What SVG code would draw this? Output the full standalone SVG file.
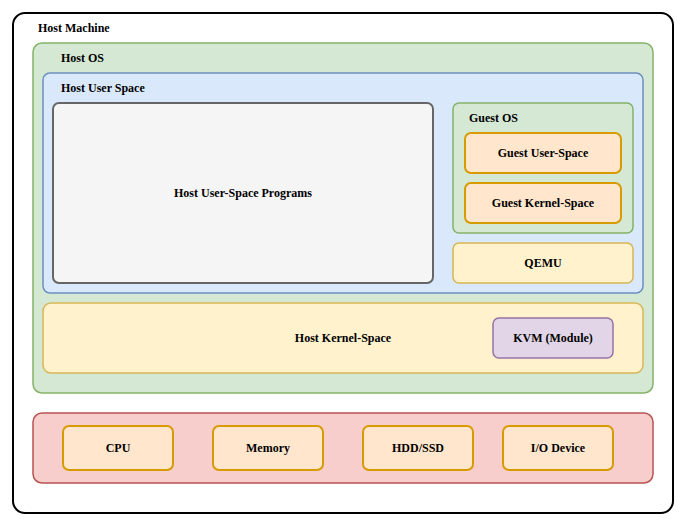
<svg xmlns="http://www.w3.org/2000/svg" width="686" height="526" viewBox="0 0 686 526">
<style>
text{font-family:"Liberation Serif","Times New Roman",serif;font-weight:bold;font-size:12px;fill:#000}
.c{text-anchor:middle;dominant-baseline:central}
.green{fill:#d5e8d4;stroke:#82b366;stroke-width:1.5}
.blue{fill:#dae8fc;stroke:#6c8ebf;stroke-width:1.5}
.grey{fill:#f5f5f5;stroke:#666666;stroke-width:2}
.orange{fill:#ffe6cc;stroke:#d79b00;stroke-width:2}
.yellow{fill:#fff2cc;stroke:#d6b656;stroke-width:1.5}
.purple{fill:#e1d5e7;stroke:#9673a6;stroke-width:1.5}
.red{fill:#f8cecc;stroke:#b85450;stroke-width:1.5}
</style>
<rect width="686" height="526" fill="#fff"/>
<g id="host-machine"><rect x="13" y="13" width="660" height="500" rx="12" fill="#fff" stroke="#000" stroke-width="2"/><text x="38" y="32">Host Machine</text></g>
<g id="host-os"><rect class="green" x="33" y="43" width="620" height="350" rx="9"/><text x="61" y="62">Host OS</text></g>
<g id="host-user-space"><rect class="blue" x="43" y="73" width="600" height="220" rx="7"/><text x="61" y="92">Host User Space</text></g>
<g id="host-user-programs"><rect class="grey" x="53" y="103" width="380" height="180" rx="6"/><text class="c" x="243" y="193">Host User-Space Programs</text></g>
<g id="guest-os"><rect class="green" x="453" y="103" width="180" height="130" rx="6"/><text x="469" y="122">Guest OS</text></g>
<g id="guest-user-space"><rect class="orange" x="465" y="133" width="156" height="40" rx="6"/><text class="c" x="543" y="153">Guest User-Space</text></g>
<g id="guest-kernel-space"><rect class="orange" x="465" y="183" width="156" height="40" rx="6"/><text class="c" x="543" y="203">Guest Kernel-Space</text></g>
<g id="qemu"><rect class="yellow" x="453" y="243" width="180" height="40" rx="6"/><text class="c" x="543" y="263">QEMU</text></g>
<g id="host-kernel-space"><rect class="yellow" x="43" y="303" width="600" height="70" rx="8"/><text class="c" x="343" y="338">Host Kernel-Space</text></g>
<g id="kvm"><rect class="purple" x="493" y="318" width="120" height="40" rx="6"/><text class="c" x="553" y="338">KVM (Module)</text></g>
<g id="hardware"><rect class="red" x="33" y="413" width="620" height="70" rx="9"/></g>
<g id="cpu"><rect class="orange" x="63" y="426" width="110" height="44" rx="6"/><text class="c" x="118" y="448">CPU</text></g>
<g id="memory"><rect class="orange" x="213" y="426" width="110" height="44" rx="6"/><text class="c" x="268" y="448">Memory</text></g>
<g id="hdd-ssd"><rect class="orange" x="363" y="426" width="110" height="44" rx="6"/><text class="c" x="418" y="448">HDD/SSD</text></g>
<g id="io-device"><rect class="orange" x="503" y="426" width="110" height="44" rx="6"/><text class="c" x="558" y="448">I/O Device</text></g>
<g id="connectors"></g>
</svg>
